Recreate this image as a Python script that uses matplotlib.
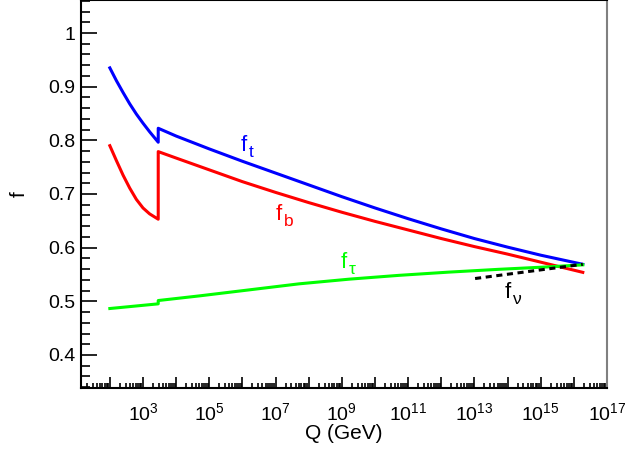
import matplotlib
matplotlib.use('Agg')
import matplotlib.pyplot as plt
import matplotlib.ticker as mticker
import numpy as np

plt.rcParams['font.family'] = ['Liberation Sans', 'DejaVu Sans']
plt.rcParams['mathtext.fontset'] = 'custom'
plt.rcParams['mathtext.rm'] = 'Liberation Sans'
plt.rcParams['mathtext.it'] = 'Liberation Sans:italic'
plt.rcParams['mathtext.default'] = 'regular'

# log10(Q / GeV) and couplings
logq_t = [2.0, 2.2, 2.4, 2.6, 2.8, 3.0, 3.2, 3.46,
          3.46, 4.0, 5.0, 6.0, 7.0, 8.0, 9.0, 10.0, 11.0, 12.0, 13.0, 14.0, 15.0, 16.27]
f_t = [0.935, 0.911, 0.889, 0.868, 0.849, 0.832, 0.816, 0.7965,
       0.8225, 0.808, 0.784, 0.761, 0.739, 0.717, 0.695, 0.674, 0.654, 0.635, 0.617, 0.601, 0.586, 0.569]

logq_b = [2.0, 2.2, 2.4, 2.6, 2.8, 3.0, 3.2, 3.46,
          3.46, 4.0, 5.0, 6.0, 7.0, 8.0, 9.0, 10.0, 11.0, 12.0, 13.0, 14.0, 15.0, 16.27]
f_b = [0.790, 0.762, 0.735, 0.711, 0.690, 0.674, 0.663, 0.653,
       0.779, 0.767, 0.745, 0.723, 0.703, 0.684, 0.666, 0.649, 0.633, 0.617, 0.602, 0.588, 0.573, 0.554]

logq_tau = [2.0, 3.46, 3.46, 4.71, 6.21, 7.71, 9.22, 10.72, 12.22, 13.72, 15.22, 16.27]
f_tau = [0.4866, 0.4953, 0.5015, 0.5102, 0.5214, 0.5326, 0.5413, 0.5484, 0.5544, 0.5596, 0.5642, 0.568]

logq_nu = [13.02, 14.62, 16.27]
f_nu = [0.5425, 0.5555, 0.569]

label_subs = ['t', 'b', 'τ', 'ν']
label_logq = [5.94, 6.99, 8.95, 13.9]
label_f = [0.780, 0.652, 0.5624, 0.5065]
colors = ['#0000ff', '#ff0000', '#00ff00', '#000000']

fig = plt.figure(figsize=(6.25, 4.51), dpi=100)
ax = fig.add_axes([81 / 625, 63 / 451, 526 / 625, 388 / 451])

ax.plot(10 ** np.array(logq_t), f_t, color=colors[0], lw=2.2)
ax.plot(10 ** np.array(logq_b), f_b, color=colors[1], lw=2.2)
ax.plot(10 ** np.array(logq_tau), f_tau, color=colors[2], lw=2.2)
ax.plot(10 ** np.array(logq_nu), f_nu, color=colors[3], lw=2.2, linestyle=(0, (2, 1.5)))

# f with its subscript, ROOT style (larger subscript than mathtext)
for sub, lq, fv, c in zip(label_subs, label_logq, label_f, colors):
    ax.text(10 ** lq, fv, 'f', color=c, fontsize=16, ha='left', va='baseline')
    ax.annotate(sub, xy=(10 ** lq, fv), xytext=(6, -4.5), textcoords='offset points',
                color=c, fontsize=12.5, ha='left', va='baseline')

ax.set_xscale('log')
ax.set_xlim(10 ** 1.13, 10 ** 17)
ax.set_ylim(0.3385, 1.0615)

ax.xaxis.set_major_locator(mticker.LogLocator(base=10, numticks=30))
ax.xaxis.set_minor_locator(mticker.LogLocator(base=10, subs=np.arange(2, 10), numticks=30))


def xfmt(v, pos):
    e = int(round(np.log10(v)))
    if e >= 3 and e % 2 == 1:
        return r'$10^{%d}$' % e
    return ''


ax.xaxis.set_major_formatter(mticker.FuncFormatter(xfmt))
ax.xaxis.set_minor_formatter(mticker.NullFormatter())

ax.yaxis.set_major_locator(mticker.MultipleLocator(0.1))
ax.yaxis.set_minor_locator(mticker.MultipleLocator(0.02))
ax.yaxis.set_major_formatter(mticker.FuncFormatter(
    lambda v, pos: '1' if abs(v - 1) < 1e-6 else '%.1f' % v))

ax.tick_params(axis='both', which='both', direction='in', top=False, right=False,
               labelsize=14, width=1.2)
ax.tick_params(axis='y', which='major', length=11.5, pad=4)
ax.tick_params(axis='y', which='minor', length=6.5)
ax.tick_params(axis='x', which='major', length=8, pad=10)
ax.tick_params(axis='x', which='minor', length=3.6)

for side in ['left', 'bottom', 'top', 'right']:
    ax.spines[side].set_linewidth(1.5)
ax.spines['right'].set_color('#808080')

ax.set_xlabel('Q (GeV)', fontsize=15, labelpad=0)
ax.set_ylabel('f', fontsize=15, labelpad=14)

fig.savefig('out.png', dpi=100)
plt.close(fig)
